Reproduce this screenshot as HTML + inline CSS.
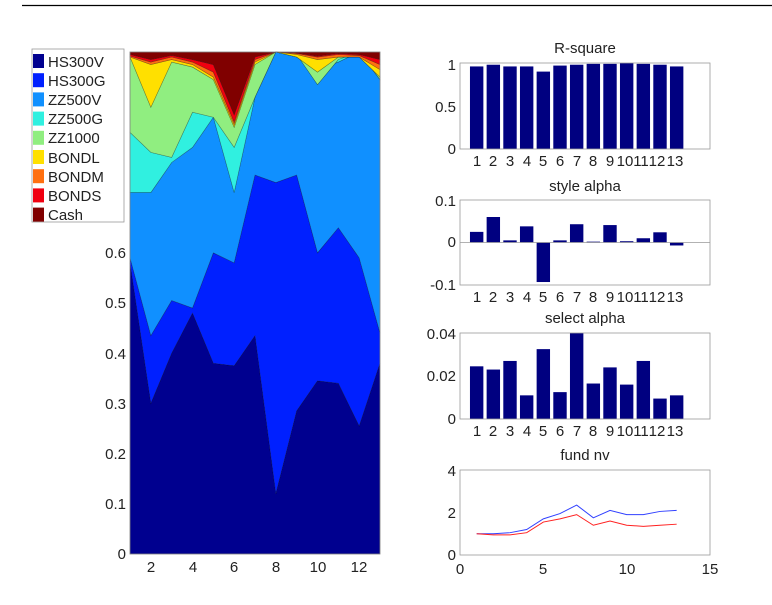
<!DOCTYPE html>
<html><head><meta charset="utf-8"><style>
html,body{margin:0;padding:0;background:#fff;}
svg{display:block;font-family:"Liberation Sans",sans-serif;}
text{font-size:15px;fill:#222;}
</style></head><body>
<svg id="s" width="772" height="605" viewBox="0 0 772 605" xmlns="http://www.w3.org/2000/svg">
<line x1="22" y1="5.5" x2="772" y2="5.5" stroke="#000" stroke-width="1.2"/>
<g id="area"></g>
<rect x="130" y="52" width="250" height="502" fill="none" stroke="#888" stroke-width="0.8"/>
<g text-anchor="end">
<text x="126" y="559">0</text><text x="126" y="509">0.1</text><text x="126" y="459">0.2</text>
<text x="126" y="409">0.3</text><text x="126" y="359">0.4</text><text x="126" y="308">0.5</text>
<text x="126" y="258">0.6</text>
</g>
<g text-anchor="middle">
<text x="151" y="572">2</text><text x="193" y="572">4</text><text x="234" y="572">6</text>
<text x="276" y="572">8</text><text x="318" y="572">10</text><text x="359" y="572">12</text>
</g>
<!-- legend -->
<rect x="32" y="49" width="92" height="173" fill="#fff" stroke="#999" stroke-width="0.8"/>
<g id="leg"></g>
<g>
<text x="48" y="67">HS300V</text><text x="48" y="86">HS300G</text><text x="48" y="105">ZZ500V</text>
<text x="48" y="124">ZZ500G</text><text x="48" y="143">ZZ1000</text><text x="48" y="163">BONDL</text>
<text x="48" y="182">BONDM</text><text x="48" y="201">BONDS</text><text x="48" y="220">Cash</text>
</g>
<g id="right"></g>
<g text-anchor="middle">
<text x="585" y="53">R-square</text>
<text x="585" y="191">style alpha</text>
<text x="585" y="323">select alpha</text>
<text x="585" y="460">fund nv</text>
</g>
<g text-anchor="end">
<text x="456" y="70">1</text><text x="456" y="112">0.5</text><text x="456" y="154">0</text>
<text x="456" y="206">0.1</text><text x="456" y="247">0</text><text x="456" y="290">-0.1</text>
<text x="456" y="339">0.04</text><text x="456" y="381">0.02</text><text x="456" y="424">0</text>
<text x="456" y="476">4</text><text x="456" y="518">2</text><text x="456" y="560">0</text>
</g>
<g text-anchor="middle" id="xt">
<text x="460" y="574">0</text><text x="543" y="574">5</text><text x="627" y="574">10</text><text x="710" y="574">15</text>
</g>
<g text-anchor="middle">
<text x="477" y="166">1</text><text x="493" y="166">2</text><text x="510" y="166">3</text><text x="527" y="166">4</text><text x="543" y="166">5</text><text x="560" y="166">6</text><text x="577" y="166">7</text><text x="593" y="166">8</text><text x="610" y="166">9</text><text x="625" y="166">10</text><text x="641" y="166">11</text><text x="657" y="166">12</text><text x="675" y="166">13</text>
<text x="477" y="302">1</text><text x="493" y="302">2</text><text x="510" y="302">3</text><text x="527" y="302">4</text><text x="543" y="302">5</text><text x="560" y="302">6</text><text x="577" y="302">7</text><text x="593" y="302">8</text><text x="610" y="302">9</text><text x="625" y="302">10</text><text x="641" y="302">11</text><text x="657" y="302">12</text><text x="675" y="302">13</text>
<text x="477" y="436">1</text><text x="493" y="436">2</text><text x="510" y="436">3</text><text x="527" y="436">4</text><text x="543" y="436">5</text><text x="560" y="436">6</text><text x="577" y="436">7</text><text x="593" y="436">8</text><text x="610" y="436">9</text><text x="625" y="436">10</text><text x="641" y="436">11</text><text x="657" y="436">12</text><text x="675" y="436">13</text>
</g>
</svg>
<script>
var NS="http://www.w3.org/2000/svg";
function el(p,t,a){var e=document.createElementNS(NS,t);for(var k in a)e.setAttribute(k,a[k]);p.appendChild(e);return e;}
var L=[
[.58,.30,.40,.48,.38,.375,.435,.12,.285,.345,.34,.255,.38],
[.59,.435,.505,.49,.60,.58,.755,.74,.755,.60,.65,.59,.44],
[.72,.72,.78,.81,.87,.72,.91,1.0,.99,.965,.98,1.0,.945],
[.84,.80,.79,.88,.87,.81,.91,1.0,.995,.935,.985,1.0,.945],
[.99,.89,.98,.97,.945,.85,.975,1.0,.99,.96,.99,.99,.95],
[.99,.975,.985,.975,.95,.855,.98,1.0,.995,.985,.99,.99,.965],
[.992,.98,.99,.98,.96,.86,.985,1.0,.997,.99,.995,.993,.975],
[.995,.985,.993,.985,.975,.875,.99,1.0,.998,.992,.997,.995,.985],
[1,1,1,1,1,1,1,1,1,1,1,1,1]];
var C=["#00008f","#0020ff","#1090ff","#30f0e0","#90ee80","#ffe000","#ff7010","#f00010","#800000"];
var g=document.getElementById("area");
function X(i){return 130+i*250/12;} function Y(v){return 554-v*502;}
for(var k=0;k<9;k++){var pts=[];for(var i=0;i<13;i++)pts.push(X(i)+","+Y(L[k][i]));
 for(var i=12;i>=0;i--)pts.push(X(i)+","+Y(k?L[k-1][i]:0));
 el(g,"polygon",{points:pts.join(" "),fill:C[k],stroke:"rgba(0,0,0,0.35)","stroke-width":"0.6"});}
var lg=document.getElementById("leg");
for(var k=0;k<9;k++)el(lg,"rect",{x:33,y:54+k*19.2,width:11,height:14,fill:C[k]});
var r=document.getElementById("right");
function box(t,b){el(r,"rect",{x:460,y:t,width:250,height:b-t,fill:"none",stroke:"#999","stroke-width":"0.8"});}
function bx(i){return 460+(i+1)*250/15;}
function bars(t,b,mn,mx,v){var y0=b-(0-mn)/(mx-mn)*(b-t);
 for(var i=0;i<13;i++){var y=b-(v[i]-mn)/(mx-mn)*(b-t);el(r,"rect",{x:bx(i)-6.7,y:Math.min(y,y0),width:13.4,height:Math.abs(y-y0),fill:"#000080"});}
 box(t,b); if(mn<0)el(r,"line",{x1:460,x2:710,y1:y0,y2:y0,stroke:"#999","stroke-width":"0.8"});}
bars(63,149,0,1,[.96,.98,.96,.96,.9,.97,.98,.99,.99,1.0,.99,.98,.96]);
bars(200,285,-0.1,0.1,[.025,.06,.005,.038,-.093,.005,.043,.002,.041,.003,.01,.024,-.007]);
bars(333,419,0,0.04,[.0245,.023,.027,.011,.0325,.0125,.04,.0165,.024,.016,.027,.0095,.011]);
box(470,555);
function line(v,c){var p=[];for(var i=0;i<13;i++)p.push(bx(i)+","+(555-v[i]/4*85));el(r,"polyline",{points:p.join(" "),fill:"none",stroke:c,"stroke-width":"1"});}
line([1,1,1.05,1.2,1.7,1.95,2.35,1.75,2.1,1.9,1.9,2.05,2.1],"#3040ff");
line([1,.95,.95,1.05,1.55,1.7,1.9,1.4,1.6,1.4,1.35,1.4,1.45],"#ff2020");
</script>
</body></html>
